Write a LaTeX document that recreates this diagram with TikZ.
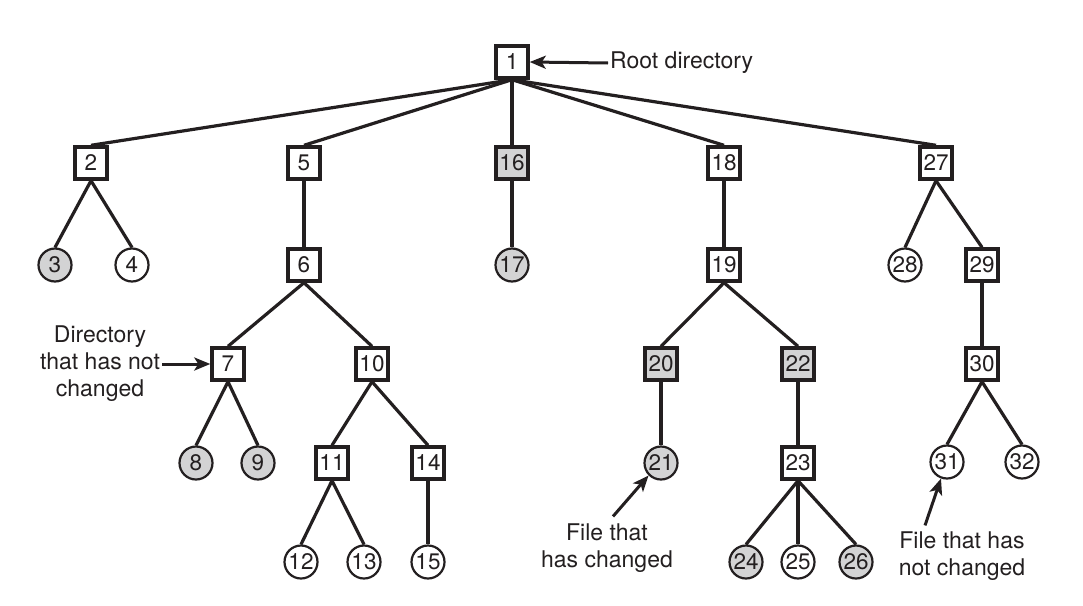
\documentclass[tikz,border=0pt]{standalone}
\usepackage{fontspec}
\setmainfont{TeX Gyre Heros}
\usepackage{xcolor}
\usepackage{tikz}
\usetikzlibrary{arrows.meta, backgrounds}

\definecolor{ink}{RGB}{35,31,32}
\definecolor{shade}{RGB}{211,211,212}

\begin{document}
\begin{tikzpicture}[x=1pt, y=-1pt,
        dirbox/.style={draw=ink, rectangle, line width=3.4pt, minimum size=32pt, inner sep=0pt, fill=white, text=ink, font=\fontsize{22.5}{24}\selectfont},
        newdirbox/.style={dirbox, fill=shade},
        filenode/.style={draw=ink, circle, line width=2.2pt, minimum size=33pt, inner sep=0pt, fill=white, text=ink, font=\fontsize{22.5}{24}\selectfont},
        newfilenode/.style={filenode, fill=shade},
        link/.style={draw=ink, line width=3.2pt},
        arrow/.style={-{Stealth[length=16pt, width=13pt, inset=4pt]}, draw=ink, line width=3pt},
        note/.style={align=center, inner sep=2pt, text=ink, font=\fontsize{23}{27}\selectfont}
    ]

    \useasboundingbox (0,0) rectangle (1083,605);

    % ============ LEVEL 0 ============
    \node[dirbox] (n1) at (512, 62) {1};

    % ============ LEVEL 1 ============
    \node[dirbox] (n2) at (91, 163) {2};
    \node[dirbox] (n5) at (304, 163) {5};
    \node[newdirbox] (n16) at (512, 163) {16};
    \node[dirbox] (n18) at (724, 163) {18};
    \node[dirbox] (n27) at (936, 163) {27};

    % ============ LEVEL 2 ============
    \node[newfilenode] (n3) at (55, 265) {3};
    \node[filenode] (n4) at (132, 265) {4};
    \node[dirbox] (n6) at (304, 265) {6};
    \node[newfilenode] (n17) at (512, 265) {17};
    \node[dirbox] (n19) at (724, 265) {19};
    \node[filenode] (n28) at (905, 265) {28};
    \node[dirbox] (n29) at (982, 265) {29};

    % ============ LEVEL 3 ============
    \node[dirbox] (n7) at (228, 364) {7};
    \node[dirbox] (n10) at (372, 364) {10};
    \node[newdirbox] (n20) at (661, 364) {20};
    \node[newdirbox] (n22) at (798, 364) {22};
    \node[dirbox] (n30) at (982, 364) {30};

    % ============ LEVEL 4 ============
    \node[newfilenode] (n8) at (196, 463) {8};
    \node[newfilenode] (n9) at (258, 463) {9};
    \node[dirbox] (n11) at (332, 463) {11};
    \node[dirbox] (n14) at (428, 463) {14};
    \node[newfilenode] (n21) at (661, 463) {21};
    \node[dirbox] (n23) at (798, 463) {23};
    \node[filenode] (n31) at (947, 462) {31};
    \node[filenode] (n32) at (1022, 462) {32};

    % ============ LEVEL 5 ============
    \node[filenode] (n12) at (301, 562) {12};
    \node[filenode] (n13) at (364, 562) {13};
    \node[filenode] (n15) at (428, 562) {15};
    \node[newfilenode] (n24) at (746, 562) {24};
    \node[filenode] (n25) at (798, 562) {25};
    \node[newfilenode] (n26) at (856, 562) {26};

    % ============ LINKS ============
    \begin{scope}[on background layer]
        % root
        \draw[link] (n1.south) -- (n2.north);
        \draw[link] (n1.south) -- (n5.north);
        \draw[link] (n1.south) -- (n16.north);
        \draw[link] (n1.south) -- (n18.north);
        \draw[link] (n1.south) -- (n27.north);

        % left subtrees
        \draw[link] (n2.south) -- (n3.north);
        \draw[link] (n2.south) -- (n4.north);
        \draw[link] (n5.south) -- (n6.north);
        \draw[link] (n6.south) -- (n7.north);
        \draw[link] (n6.south) -- (n10.north);
        \draw[link] (n7.south) -- (n8.north);
        \draw[link] (n7.south) -- (n9.north);
        \draw[link] (n10.south) -- (n11.north);
        \draw[link] (n10.south) -- (n14.north);
        \draw[link] (n11.south) -- (n12.north);
        \draw[link] (n11.south) -- (n13.north);
        \draw[link] (n14.south) -- (n15.north);

        % middle subtrees
        \draw[link] (n16.south) -- (n17.north);
        \draw[link] (n18.south) -- (n19.north);
        \draw[link] (n19.south) -- (n20.north);
        \draw[link] (n19.south) -- (n22.north);
        \draw[link] (n20.south) -- (n21.north);
        \draw[link] (n22.south) -- (n23.north);
        \draw[link] (n23.south) -- (n24.north);
        \draw[link] (n23.south) -- (n25.north);
        \draw[link] (n23.south) -- (n26.north);

        % right subtree
        \draw[link] (n27.south) -- (n28.north);
        \draw[link] (n27.south) -- (n29.north);
        \draw[link] (n29.south) -- (n30.north);
        \draw[link] (n30.south) -- (n31.north);
        \draw[link] (n30.south) -- (n32.north);
    \end{scope}

    % ============ NOTES ============
    \node[note, anchor=west] (rootnote) at (608, 63) {Root directory};
    \draw[arrow] (rootnote.west) -- (n1.east);

    \node[note] (dirnote) at (100, 364) {Directory\\that has not\\changed};
    \draw[arrow] (dirnote.east) -- (n7.west);

    \node[note] (changednote) at (607, 548) {File that\\has changed};
    \draw[arrow] ([xshift=6pt, yshift=5pt]changednote.north) -- (n21.south west);

    \node[note] (keptnote) at (962, 556) {File that has\\not changed};
    \draw[arrow] ([xshift=-37pt, yshift=4pt]keptnote.north) -- (n31.250);

\end{tikzpicture}
\end{document}
